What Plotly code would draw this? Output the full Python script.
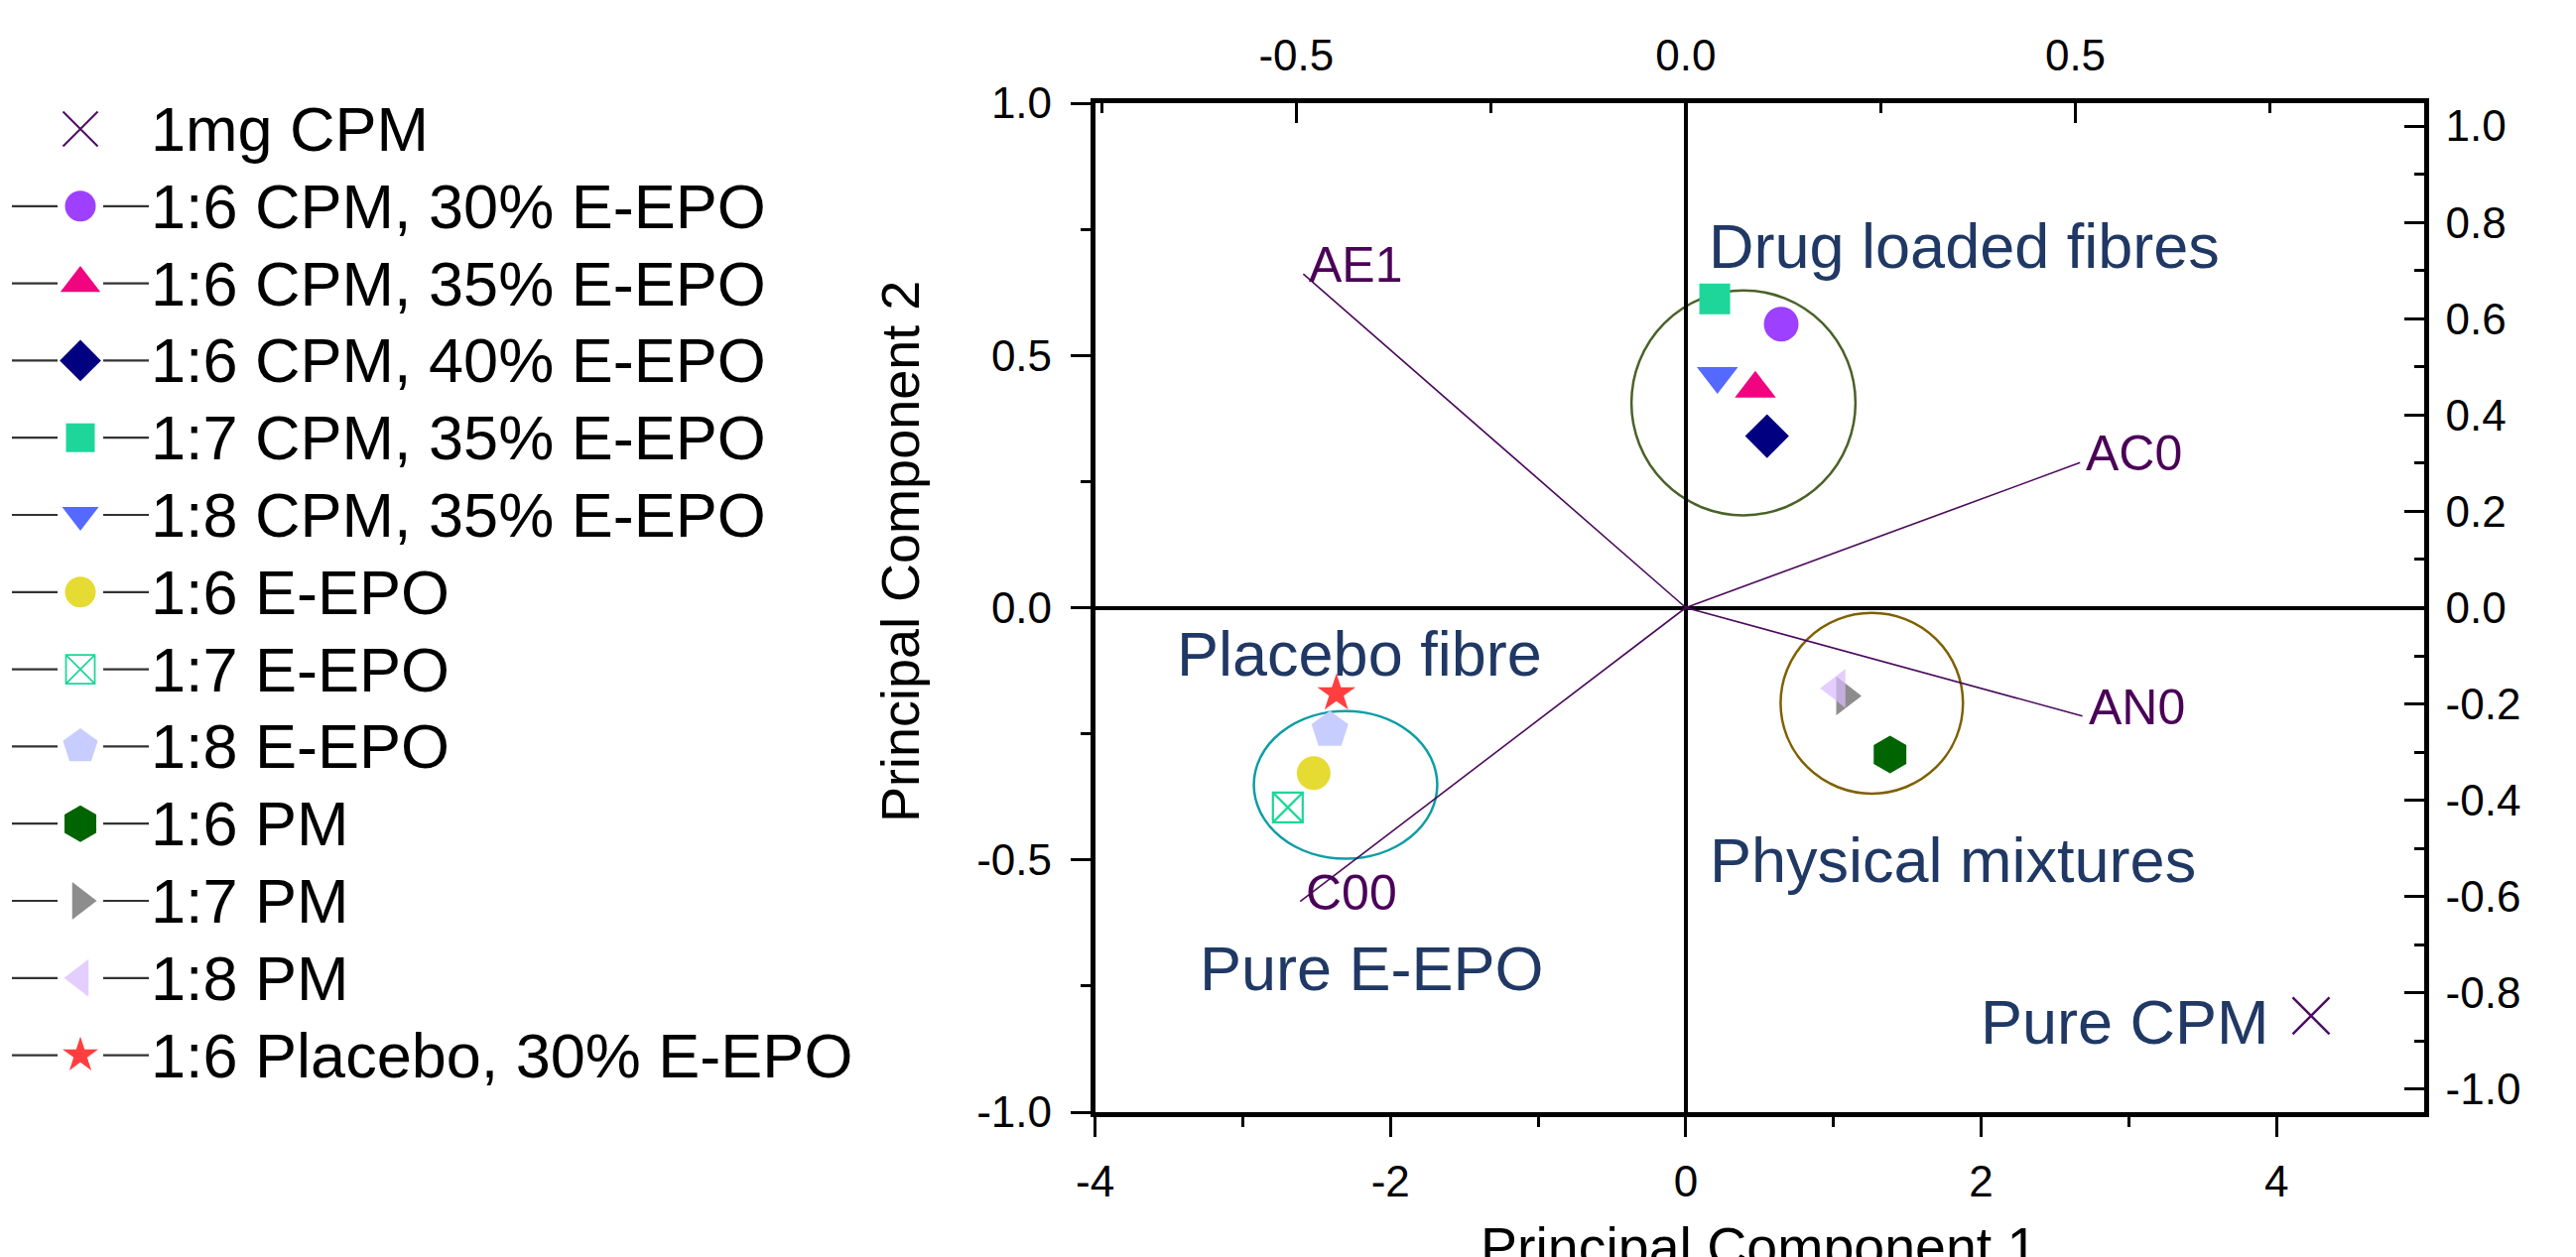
import plotly.graph_objects as go

W, H = 2596, 1267
OFF = 8  # page body margin of the generated html
FONT = "Liberation Sans, Arial, sans-serif"

# ---------------- data ----------------
series_names = ["1mg CPM", "1:6 CPM, 30% E-EPO", "1:6 CPM, 35% E-EPO", "1:6 CPM, 40% E-EPO",
                "1:7 CPM, 35% E-EPO", "1:8 CPM, 35% E-EPO", "1:6 E-EPO", "1:7 E-EPO",
                "1:8 E-EPO", "1:6 PM", "1:7 PM", "1:8 PM", "1:6 Placebo, 30% E-EPO"]
pc1 = [4.234, 0.646, 0.471, 0.550, 0.196, 0.214, -2.520, -2.695, -2.410, 1.383, 1.076, 1.024, -2.366]
pc2 = [-0.809, 0.562, 0.434, 0.340, 0.612, 0.459, -0.328, -0.396, -0.243, -0.291, -0.175, -0.160, -0.170]

loading_names = ["AE1", "AC0", "AN0", "C00"]
loading_x = [-0.491, 0.506, 0.509, -0.495]
loading_y = [0.693, 0.301, -0.225, -0.610]

group_labels = ["Drug loaded fibres", "Physical mixtures", "Placebo fibre", "Pure E-EPO", "Pure CPM"]
group_x = [0.162, 0.169, -3.441, -3.287, 2.001]
group_y = [0.716, -0.500, -0.092, -0.714, -0.822]

# cluster ellipses (x0, x1, y0, y1) in score units
cluster_bounds = [(-0.368, 1.149, 0.183, 0.629),
                  (0.642, 1.877, -0.3685, -0.0104),
                  (-2.925, -1.683, -0.4975, -0.205)]

bottom_ticks = [-4, -2, 0, 2, 4]
bottom_minor = [-3, -1, 1, 3]
left_ticks = [-1.0, -0.5, 0.0, 0.5, 1.0]
left_minor = [-0.75, -0.25, 0.25, 0.75]
top_ticks = [-0.5, 0.0, 0.5]
top_minor = [-0.75, -0.25, 0.25, 0.75]
right_ticks = [-1.0, -0.8, -0.6, -0.4, -0.2, 0.0, 0.2, 0.4, 0.6, 0.8, 1.0]
right_minor = [-0.9, -0.7, -0.5, -0.3, -0.1, 0.1, 0.3, 0.5, 0.7, 0.9]

# ---------------- styles ----------------
SYM = ["x-thin-open", "circle", "triangle-up", "diamond", "square", "triangle-down", "circle",
       "square-x-open", "pentagon", "hexagon", "triangle-right", "triangle-left", "star"]
COL = ["#4E0C62", "#9D40FF", "#F0047F", "#000080", "#1ED69A", "#5469FF", "#E5DB33",
       "#1ED69A", "#C8CDFF", "#006400", "#8D8D8D", "#D9BBFF", "#FF3F3F"]
SIZE = [37, 35, 36, 34, 31, 36, 34, 30, 39, 38, 34, 34, 29]
LEG_SIZE = [35, 31, 35, 32, 29, 32, 31, 29, 37, 37, 33, 33, 27]
LW = [2.5, 0, 0, 0, 0, 0, 0, 2.2, 0, 0, 0, 0, 0]
OPA = [1, 1, 1, 1, 1, 1, 1, 1, 1, 1, 1, 0.72, 1]
HAS_LINE = [False] + [True] * 12
ELL_COL = ["#4A6228", "#7F6000", "#0E9DA6"]
LOAD_COL = "#4B0A5C"
LOAD_TXT = "#4B0058"
GROUP_TXT = "#203864"

# screen-pixel geometry of the plot area
PX0, PX1, PY0, PY1 = 1103.6, 2443.0, 104.0, 1121.0
xd = [(PX0 - OFF) / W, (PX1 - OFF) / W]
yd = [1 - (PY1 - OFF) / H, 1 - (PY0 - OFF) / H]

TOP_RANGE = [-0.7582, 0.9477]
RIGHT_RANGE = [-1.0474, 1.0474]


def fmt(v, nd=1):
    s = f"{v:.{nd}f}"
    return "0.0" if s == "-0.0" else s


fig = go.Figure()

# cluster ellipses
for (xa, xb, ya, yb), c in zip(cluster_bounds, ELL_COL):
    fig.add_shape(type="circle", xref="x", yref="y", x0=xa, x1=xb, y0=ya, y1=yb,
                  line=dict(color=c, width=2.5), layer="below")

# loading vectors on top/right axes
lx, ly = [], []
for a, b in zip(loading_x, loading_y):
    lx += [0, a, None]
    ly += [0, b, None]
fig.add_trace(go.Scatter(x=lx, y=ly, mode="lines", xaxis="x2", yaxis="y2",
                         line=dict(color=LOAD_COL, width=1.6), showlegend=False, hoverinfo="skip"))
for name, a, b in zip(loading_names, loading_x, loading_y):
    fig.add_annotation(x=a, y=b, xref="x2", yref="y2", text=name, showarrow=False,
                       xanchor="left", yanchor="middle", xshift=4, yshift=9,
                       font=dict(family=FONT, size=50, color=LOAD_TXT))

# scores
for i, name in enumerate(series_names):
    fig.add_trace(go.Scatter(
        x=[pc1[i]], y=[pc2[i]], mode="markers", name=name, showlegend=False,
        marker=dict(symbol=SYM[i], size=SIZE[i], color=COL[i], opacity=OPA[i],
                    line=dict(width=LW[i], color=COL[i]))))

# group labels
for t, gx, gy in zip(group_labels, group_x, group_y):
    fig.add_annotation(x=gx, y=gy, xref="x", yref="y", text=t, showarrow=False,
                       xanchor="left", yanchor="middle", xshift=-3,
                       font=dict(family=FONT, size=63, color=GROUP_TXT))

# ---------------- custom legend (screen-pixel helper axes) ----------------
LEG_Y0, LEG_DY = 130.0, 77.8
leg_y = [LEG_Y0 + i * LEG_DY for i in range(len(series_names))]
segx, segy = [], []
for yy, hl in zip(leg_y, HAS_LINE):
    if hl:
        segx += [12, 58, None, 104, 150, None]
        segy += [yy, yy, None, yy, yy, None]
fig.add_trace(go.Scatter(x=segx, y=segy, mode="lines", xaxis="x3", yaxis="y3",
                         line=dict(color="#333333", width=2.2), showlegend=False, hoverinfo="skip"))
fig.add_trace(go.Scatter(x=[81] * len(series_names), y=leg_y, mode="markers", xaxis="x3", yaxis="y3",
                         showlegend=False, hoverinfo="skip",
                         marker=dict(symbol=SYM, size=LEG_SIZE, color=COL, opacity=OPA,
                                     line=dict(width=[w * 0.8 for w in LW], color=COL))))
for name, yy in zip(series_names, leg_y):
    fig.add_annotation(x=150, y=yy, xref="x3", yref="y3", text=name, showarrow=False,
                       xanchor="left", yanchor="middle",
                       font=dict(family=FONT, size=63, color="black"))

# axis titles
fig.add_annotation(x=907, y=556, xref="x3", yref="y3", text="Principal Component 2", showarrow=False,
                   textangle=-90, xanchor="center", yanchor="middle",
                   font=dict(family=FONT, size=54, color="black"))
fig.add_annotation(x=1772, y=1257, xref="x3", yref="y3", text="Principal Component 1", showarrow=False,
                   xanchor="center", yanchor="middle",
                   font=dict(family=FONT, size=55.5, color="black"))

tickfont = dict(family=FONT, size=44, color="black")
common = dict(showgrid=False, showline=True, linewidth=4.5, linecolor="black",
              tickwidth=3, tickcolor="black", ticklen=20, tickfont=tickfont, fixedrange=True)

fig.update_layout(
    width=W, height=H, margin=dict(l=0, r=0, t=0, b=0, autoexpand=False),
    paper_bgcolor="white", plot_bgcolor="rgba(0,0,0,0)", showlegend=False,
    font=dict(family=FONT, color="black"),
    xaxis=dict(domain=xd, range=[-4, 5], anchor="y", side="bottom",
               tickvals=bottom_ticks, ticktext=[str(v) for v in bottom_ticks], ticks="outside",
               minor=dict(tickvals=bottom_minor, ticks="outside", ticklen=10, tickwidth=3, tickcolor="black"),
               zeroline=True, zerolinewidth=3.5, zerolinecolor="black", ticklabelstandoff=7, **common),
    yaxis=dict(domain=yd, range=[-1, 1], anchor="x", side="left",
               tickvals=left_ticks, ticktext=[fmt(v) for v in left_ticks], ticks="outside",
               minor=dict(tickvals=left_minor, ticks="outside", ticklen=10, tickwidth=3, tickcolor="black"),
               zeroline=True, zerolinewidth=3.5, zerolinecolor="black", ticklabelstandoff=10, **common),
    xaxis2=dict(overlaying="x", anchor="y", side="top", range=TOP_RANGE,
                tickvals=top_ticks, ticktext=[fmt(v) for v in top_ticks], ticks="inside",
                minor=dict(tickvals=top_minor, ticks="inside", ticklen=10, tickwidth=3, tickcolor="black"),
                zeroline=False, ticklabelstandoff=11, **common),
    yaxis2=dict(overlaying="y", anchor="x", side="right", range=RIGHT_RANGE,
                tickvals=right_ticks, ticktext=[fmt(v) for v in right_ticks], ticks="inside",
                minor=dict(tickvals=right_minor, ticks="inside", ticklen=10, tickwidth=3, tickcolor="black"),
                zeroline=False, ticklabelstandoff=8, **common),
    xaxis3=dict(domain=[0, 1], range=[OFF, W + OFF], anchor="y3", visible=False, fixedrange=True),
    yaxis3=dict(domain=[0, 1], range=[H + OFF, OFF], anchor="x3", visible=False, fixedrange=True),
)

fig.write_html("out.html")
